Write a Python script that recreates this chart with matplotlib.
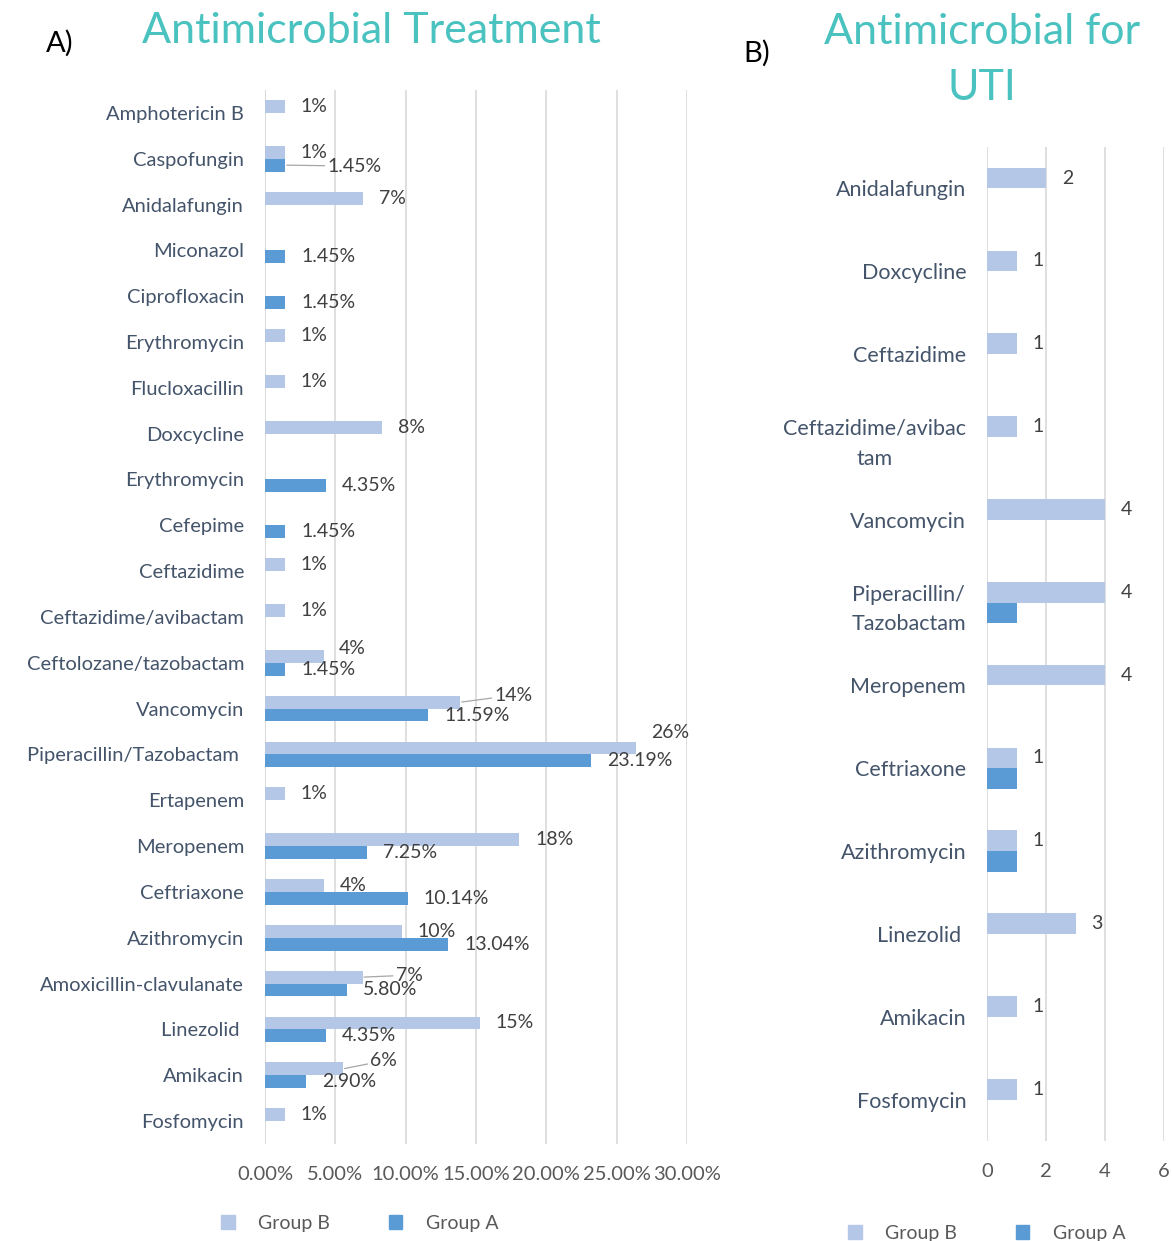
import matplotlib

matplotlib.use("Agg")

import matplotlib.pyplot as plt
import numpy as np
from matplotlib.patches import Patch

plt.rcParams["font.family"] = ["Lato", "DejaVu Sans"]

# Panel A: share of patients (%) per antimicrobial
treat_names = [
    "Amphotericin B", "Caspofungin", "Anidalafungin", "Miconazol", "Ciprofloxacin",
    "Erythromycin", "Flucloxacillin", "Doxcycline", "Erythromycin", "Cefepime",
    "Ceftazidime", "Ceftazidime/avibactam", "Ceftolozane/tazobactam", "Vancomycin",
    "Piperacillin/Tazobactam ", "Ertapenem", "Meropenem", "Ceftriaxone", "Azithromycin",
    "Amoxicillin-clavulanate", "Linezolid ", "Amikacin", "Fosfomycin",
]
treat_b = [1.39, 1.39, 6.94, 0, 0, 1.39, 1.39, 8.33, 0, 0, 1.39, 1.39, 4.17, 13.89,
           26.39, 1.39, 18.06, 4.17, 9.72, 6.94, 15.28, 5.56, 1.39]
treat_a = [0, 1.45, 0, 1.45, 1.45, 0, 0, 0, 4.35, 1.45, 0, 0, 1.45, 11.59,
           23.19, 0, 7.25, 10.14, 13.04, 5.80, 4.35, 2.90, 0]
treat_ticks = [0, 5, 10, 15, 20, 25, 30]

# Panel B: number of patients per antimicrobial for UTI
uti_names = [
    "Anidalafungin", "Doxcycline", "Ceftazidime", "Ceftazidime/avibac\ntam", "Vancomycin",
    "Piperacillin/\nTazobactam", "Meropenem", "Ceftriaxone", "Azithromycin", "Linezolid ",
    "Amikacin", "Fosfomycin",
]
uti_b = [2, 1, 1, 1, 4, 4, 4, 1, 1, 3, 1, 1]
uti_a = [0, 0, 0, 0, 0, 1, 0, 1, 1, 0, 0, 0]
uti_ticks = [0, 2, 4, 6]

LIGHT = "#B4C7E7"
DARK = "#5B9BD5"
GRID = "#D9D9D9"
CAT_COLOR = "#44546A"
VAL_COLOR = "#404040"
TITLE_COLOR = "#4AC2C0"
VAL_FS = 14

# label nudges (pixels) for the crowded Excel data labels: (index, group) -> (dx, dy, leader)
label_nudge = {
    (1, "A"): (42, -1, True),
    (12, "B"): (15, 8, False),
    (13, "B"): (34, 7, True),
    (14, "B"): (15, 16, False),
    (19, "B"): (33, 2, True),
    (21, "B"): (27, 8, True),
}


def style_axis(ax, ticks, cat_fs):
    ax.set_xticks(ticks)
    ax.set_xlim(ticks[0], ticks[-1])
    ax.grid(axis="x", color=GRID, lw=1.2)
    ax.set_axisbelow(True)
    for side in ["top", "right", "bottom", "left"]:
        ax.spines[side].set_visible(False)
    ax.tick_params(axis="both", length=0)
    ax.tick_params(axis="y", pad=15, labelsize=cat_fs, labelcolor=CAT_COLOR)
    ax.tick_params(axis="x", pad=16, labelsize=14.5, labelcolor="#595959")


def add_label(ax, x, y, text, dx=16, dy=0, leader=False):
    arrow = None
    if leader:
        arrow = dict(arrowstyle="-", color="#A6A6A6", lw=0.9, shrinkA=0, shrinkB=1)
    ax.annotate(text, xy=(x, y), xytext=(dx, dy), textcoords="offset pixels",
                ha="left", va="center", fontsize=VAL_FS, color=VAL_COLOR, arrowprops=arrow)


fig = plt.figure(figsize=(11.72, 12.41), dpi=100)

# ---- Panel A
ax1 = fig.add_axes([0.2261, 0.0782, 0.3601, 0.8493])
y1 = np.arange(len(treat_names))
h1 = 0.28
ax1.barh(y1 - h1 / 2, treat_b, height=h1, color=LIGHT)
ax1.barh(y1 + h1 / 2, treat_a, height=h1, color=DARK)
ax1.set_yticks(y1)
ax1.set_yticklabels(treat_names)
ax1.set_ylim(len(treat_names) - 0.5, -0.5)
style_axis(ax1, treat_ticks, 14.5)
ax1.set_xticklabels([f"{t:.2f}%" for t in treat_ticks])
ax1.axvline(0, color=GRID, lw=1.2, zorder=0)

for i, (b, a) in enumerate(zip(treat_b, treat_a)):
    if b > 0:
        dx, dy, lead = label_nudge.get((i, "B"), (16, 0, False))
        add_label(ax1, b, i - h1 / 2, f"{b:.0f}%", dx, dy, lead)
    if a > 0:
        dx, dy, lead = label_nudge.get((i, "A"), (16, 0, False))
        add_label(ax1, a, i + h1 / 2, f"{a:.2f}%", dx, dy, lead)

# ---- Panel B
ax2 = fig.add_axes([0.8422, 0.0806, 0.1510, 0.8009])
y2 = np.arange(len(uti_names))
h2 = 0.25
ax2.barh(y2 - h2 / 2, uti_b, height=h2, color=LIGHT)
ax2.barh(y2 + h2 / 2, uti_a, height=h2, color=DARK)
ax2.set_yticks(y2)
ax2.set_yticklabels(uti_names, multialignment="center", linespacing=1.6)
ax2.set_ylim(len(uti_names) - 0.5, -0.5)
style_axis(ax2, uti_ticks, 15.5)
ax2.set_xticklabels([str(t) for t in uti_ticks])

for i, b in enumerate(uti_b):
    if b > 0:
        add_label(ax2, b, i - h2 / 2, f"{b}", 16, 0)

# ---- titles and panel letters
fig.text(0.317, 0.975, "Antimicrobial Treatment", ha="center", va="center",
         fontsize=31, color=TITLE_COLOR)
fig.text(0.838, 0.974, "Antimicrobial for", ha="center", va="center",
         fontsize=31, color=TITLE_COLOR)
fig.text(0.838, 0.929, "UTI", ha="center", va="center", fontsize=31, color=TITLE_COLOR)
fig.text(0.051, 0.965, "A)", ha="center", va="center", fontsize=21, color="black")
fig.text(0.646, 0.957, "B)", ha="center", va="center", fontsize=21, color="black")

# ---- legends
handles = [Patch(color=LIGHT, label="Group B"), Patch(color=DARK, label="Group A")]
leg_kw = dict(ncol=2, frameon=False, fontsize=14, handlelength=0.7, handleheight=0.7,
              columnspacing=3.0, handletextpad=1.2, labelcolor="#595959")
fig.legend(handles=handles, loc="center", bbox_to_anchor=(0.307, 0.0145), **leg_kw)
fig.legend(handles=handles, loc="center", bbox_to_anchor=(0.842, 0.006), **leg_kw)

fig.savefig("out.png", dpi=100)
plt.close(fig)
